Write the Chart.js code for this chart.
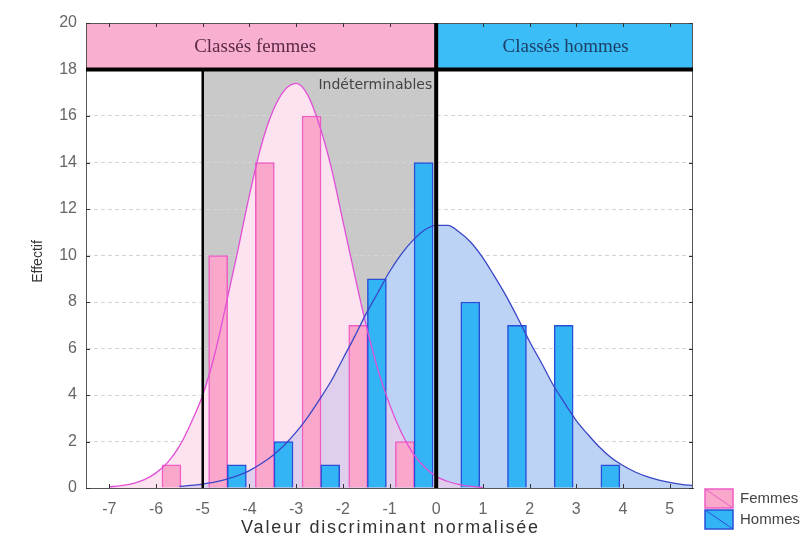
<!DOCTYPE html>
<html>
<head>
<meta charset="utf-8">
<script src="https://cdn.jsdelivr.net/npm/chart.js@4.4.0/dist/chart.umd.min.js"></script>
<style>
    html, body { margin: 0; padding: 0; background: #fff; }
</style>
</head>
<body>
<canvas id="histChart" width="808" height="543"></canvas>
<script>
// bins of width 1, given by their left edge
const BIN_STARTS = [-6, -5, -4, -3, -2, -1, 0, 1, 2, 3];
const FEMMES_COUNTS = [1, 10, 14, 16, 7, 2, 0, 0, 0, 0];
const HOMMES_COUNTS = [0, 1, 2, 1, 9, 14, 8, 7, 7, 1];

// fitted normal curves
const FEMMES_CURVE_X = [-7, -6.75, -6.5, -6.25, -6, -5.75, -5.5, -5.25, -5, -4.75, -4.5, -4.25, -4, -3.75, -3.5, -3.25,
    -3, -2.75, -2.5, -2.25, -2, -1.75, -1.5, -1.25, -1, -0.75, -0.5, -0.25, 0, 0.25, 0.5, 0.75, 1];
const FEMMES_CURVE_Y = [0.05, 0.1, 0.19, 0.36, 0.65, 1.1, 1.8, 2.8, 4.0, 5.7, 7.9, 10.2, 12.6, 14.7, 16.2, 17.1,
    17.4, 16.9, 15.6, 13.8, 11.5, 9.2, 7.0, 5.1, 3.6, 2.4, 1.5, 0.9, 0.5, 0.28, 0.15, 0.07, 0.03];
const HOMMES_CURVE_X = [-5.5, -5.25, -5, -4.75, -4.5, -4.25, -4, -3.75, -3.5, -3.25, -3, -2.75, -2.5, -2.25, -2, -1.75,
    -1.5, -1.25, -1, -0.75, -0.5, -0.25, 0, 0.25, 0.5, 0.75, 1, 1.25, 1.5, 1.75, 2, 2.25, 2.5, 2.75, 3, 3.25, 3.5,
    3.75, 4, 4.25, 4.5, 4.75, 5, 5.25, 5.5];
const HOMMES_CURVE_Y = [0.07, 0.11, 0.17, 0.25, 0.37, 0.53, 0.75, 1.04, 1.4, 1.85, 2.4, 3.05, 3.8, 4.6, 5.55, 6.5,
    7.5, 8.4, 9.3, 10.05, 10.65, 11.1, 11.3, 11.3, 11.0, 10.55, 9.9, 9.1, 8.25, 7.3, 6.3, 5.4, 4.45, 3.65, 2.9, 2.3, 1.75,
    1.3, 0.97, 0.7, 0.5, 0.35, 0.24, 0.16, 0.1];

const X_TICKS = [-7, -6, -5, -4, -3, -2, -1, 0, 1, 2, 3, 4, 5];
const Y_TICKS = [0, 2, 4, 6, 8, 10, 12, 14, 16, 18, 20];

const SERIES_NAMES = ['Femmes', 'Hommes'];
const BAND_LABELS = ['Classés femmes', 'Classés hommes'];
const ZONE_LABEL = 'Indéterminables';
const X_TITLE = 'Valeur discriminant normalisée';
const Y_TITLE = 'Effectif';

// decision limits
const FEMMES_LIMIT = -5;
const CUT_POINT = 0;
const BAND_FLOOR = 18;

const PINK = { bar: '#f9a8cc', edge: '#ee5cc4', line: '#e24fd6', band: '#f9afd0', text: '#5b2a48' };
const BLUE = { bar: '#33b5f5', edge: '#2a4fd6', line: '#3a46c8', band: '#3bbdf7', text: '#1d3f66' };

Chart.defaults.font.family = '"Liberation Sans", Arial, sans-serif';

function toPoints(xs, ys) {
    return xs.map((x, i) => ({ x: x, y: ys[i] }));
}

// bars sit side by side inside each bin
function toBars(counts, offset) {
    return BIN_STARTS.map((b, i) => ({ x: b + offset, y: counts[i] })).filter(p => p.y > 0);
}

const femmesCurve = toPoints(FEMMES_CURVE_X, FEMMES_CURVE_Y);
const hommesCurve = toPoints(HOMMES_CURVE_X, HOMMES_CURVE_Y);

const decorPlugin = {
    id: 'decor',
    beforeDraw(chart) {
        const { ctx, chartArea: a, scales: { x, y } } = chart;
        ctx.save();
        ctx.fillStyle = '#fff';
        ctx.fillRect(0, 0, chart.width, chart.height);

        // grey "undetermined" zone
        let x1 = x.getPixelForValue(FEMMES_LIMIT), x2 = x.getPixelForValue(CUT_POINT);
        let yb = y.getPixelForValue(BAND_FLOOR);
        ctx.fillStyle = '#c9c9c9';
        ctx.fillRect(x1, yb, x2 - x1, a.bottom - yb);

        // top bands
        ctx.fillStyle = PINK.band;
        ctx.fillRect(a.left, a.top, x2 - a.left, yb - a.top);
        ctx.fillStyle = BLUE.band;
        ctx.fillRect(x2, a.top, a.right - x2, yb - a.top);
        ctx.restore();
    },
    afterDatasetsDraw(chart) {
        const { ctx, chartArea: a, scales: { x, y } } = chart;
        const x1 = x.getPixelForValue(FEMMES_LIMIT), x2 = x.getPixelForValue(CUT_POINT);
        const yb = y.getPixelForValue(BAND_FLOOR);
        ctx.save();

        // frame (top and right)
        ctx.strokeStyle = '#555';
        ctx.lineWidth = 1;
        ctx.beginPath();
        ctx.moveTo(a.left, a.top + 0.5);
        ctx.lineTo(a.right - 0.5, a.top + 0.5);
        ctx.lineTo(a.right - 0.5, a.bottom);
        ctx.stroke();

        // small inward ticks
        ctx.strokeStyle = '#333';
        ctx.beginPath();
        X_TICKS.forEach(v => {
            const px = Math.round(x.getPixelForValue(v)) + 0.5;
            ctx.moveTo(px, a.bottom); ctx.lineTo(px, a.bottom - 4);
            ctx.moveTo(px, a.top); ctx.lineTo(px, a.top + 4);
        });
        Y_TICKS.forEach(v => {
            const py = Math.round(y.getPixelForValue(v)) + 0.5;
            ctx.moveTo(a.left, py); ctx.lineTo(a.left + 4, py);
            ctx.moveTo(a.right, py); ctx.lineTo(a.right - 4, py);
        });
        ctx.stroke();

        // thick limit lines
        ctx.strokeStyle = '#000';
        ctx.lineWidth = 4;
        ctx.beginPath();
        ctx.moveTo(a.left, yb); ctx.lineTo(a.right, yb);
        ctx.moveTo(x2, a.top); ctx.lineTo(x2, a.bottom);
        ctx.stroke();
        ctx.lineWidth = 2.5;
        ctx.beginPath();
        ctx.moveTo(x1, yb); ctx.lineTo(x1, a.bottom);
        ctx.stroke();

        // band texts
        const bandMid = (a.top + yb) / 2;
        ctx.font = '19px "Liberation Serif", serif';
        ctx.textAlign = 'center';
        ctx.textBaseline = 'middle';
        ctx.fillStyle = PINK.text;
        ctx.fillText(BAND_LABELS[0], (a.left + x2) / 2 - 6, bandMid + 1);
        ctx.fillStyle = BLUE.text;
        ctx.fillText(BAND_LABELS[1], (x2 + a.right) / 2 + 1, bandMid + 1);

        ctx.font = '14px "DejaVu Sans", sans-serif';
        ctx.textAlign = 'right';
        ctx.fillStyle = '#444';
        ctx.fillText(ZONE_LABEL, x2 - 4, y.getPixelForValue(17.3));
        ctx.restore();
    },
    afterDraw(chart) {
        const { ctx, chartArea: a } = chart;
        ctx.save();
        // axis titles
        ctx.fillStyle = '#333';
        ctx.textAlign = 'center';
        ctx.textBaseline = 'middle';
        ctx.font = '18px "Liberation Sans", Arial, sans-serif';
        ctx.letterSpacing = '1.8px';
        ctx.fillText(X_TITLE, (a.left + a.right) / 2 + 1, 528);
        ctx.letterSpacing = '0px';
        ctx.font = '14px "Liberation Sans", Arial, sans-serif';
        ctx.translate(38, (a.top + a.bottom) / 2 + 6);
        ctx.rotate(-Math.PI / 2);
        ctx.fillText(Y_TITLE, 0, 0);
        ctx.restore();

        // legend
        ctx.save();
        const items = [PINK, BLUE];
        items.forEach((c, i) => {
            const bx = 705, by = 489 + i * 21, bw = 28, bh = 19;
            ctx.fillStyle = c.bar;
            ctx.fillRect(bx, by, bw, bh);
            ctx.strokeStyle = c.edge;
            ctx.lineWidth = 1.5;
            ctx.strokeRect(bx, by, bw, bh);
            ctx.lineWidth = 1;
            ctx.beginPath();
            ctx.moveTo(bx, by); ctx.lineTo(bx + bw, by + bh);
            ctx.stroke();
            ctx.fillStyle = '#444';
            ctx.font = '15px "Liberation Sans", Arial, sans-serif';
            ctx.textAlign = 'left';
            ctx.textBaseline = 'middle';
            ctx.fillText(SERIES_NAMES[i], bx + 35, by + bh / 2);
        });
        ctx.restore();
    }
};

const curveBase = { type: 'line', pointRadius: 0, cubicInterpolationMode: 'monotone' };

new Chart(document.getElementById('histChart').getContext('2d'), {
    type: 'bar',
    data: {
        datasets: [
            // white mask so the pink fill stays light over the grey zone
            { ...curveBase, label: 'mask', data: femmesCurve, fill: 'origin', backgroundColor: '#ffffff',
              borderColor: 'rgba(0,0,0,0)', borderWidth: 0, order: 10 },
            { ...curveBase, label: 'hommes fill', data: hommesCurve, fill: 'origin', backgroundColor: '#bcd3f6',
              borderColor: 'rgba(0,0,0,0)', borderWidth: 0, order: 9 },
            { ...curveBase, label: 'femmes fill', data: femmesCurve, fill: 'origin', backgroundColor: 'rgba(251,202,228,0.55)',
              borderColor: 'rgba(0,0,0,0)', borderWidth: 0, order: 8 },
            { label: SERIES_NAMES[0], data: toBars(FEMMES_COUNTS, 0.33), backgroundColor: PINK.bar,
              borderColor: PINK.edge, borderWidth: 1.5, order: 5 },
            { label: SERIES_NAMES[1], data: toBars(HOMMES_COUNTS, 0.73), backgroundColor: BLUE.bar,
              borderColor: BLUE.edge, borderWidth: 1.5, order: 4 },
            { ...curveBase, label: 'femmes curve', data: femmesCurve, fill: false, borderColor: PINK.line,
              borderWidth: 1.3, order: 2 },
            { ...curveBase, label: 'hommes curve', data: hommesCurve, fill: false, borderColor: BLUE.line,
              borderWidth: 1.3, order: 1 }
        ]
    },
    options: {
        responsive: false,
        animation: false,
        grouped: false,
        barThickness: 19,
        layout: { padding: { top: 23, right: 115, left: 0, bottom: 0 } },
        plugins: {
            legend: { display: false },
            tooltip: { enabled: false }
        },
        scales: {
            x: {
                type: 'linear',
                min: -7.5,
                max: 5.5,
                offset: false,
                grid: { display: false, drawTicks: false },
                border: { display: true, color: '#555', width: 1 },
                ticks: { color: '#666', padding: 12, font: { size: 16 } },
                afterBuildTicks: s => { s.ticks = X_TICKS.map(v => ({ value: v })); },
                afterFit: s => { s.height = 55; }
            },
            y: {
                min: 0,
                max: 20,
                grid: {
                    drawTicks: false,
                    color: c => (c.tick && [0, 18, 20].includes(c.tick.value)) ? 'rgba(0,0,0,0)' : '#d4d4d4'
                },
                border: { display: true, color: '#555', width: 1, dash: [4, 3] },
                ticks: { color: '#666', padding: 9, font: { size: 16 } },
                afterBuildTicks: s => { s.ticks = Y_TICKS.map(v => ({ value: v })); },
                afterFit: s => { s.width = 86; }
            }
        }
    },
    plugins: [decorPlugin]
});
</script>
</body>
</html>
